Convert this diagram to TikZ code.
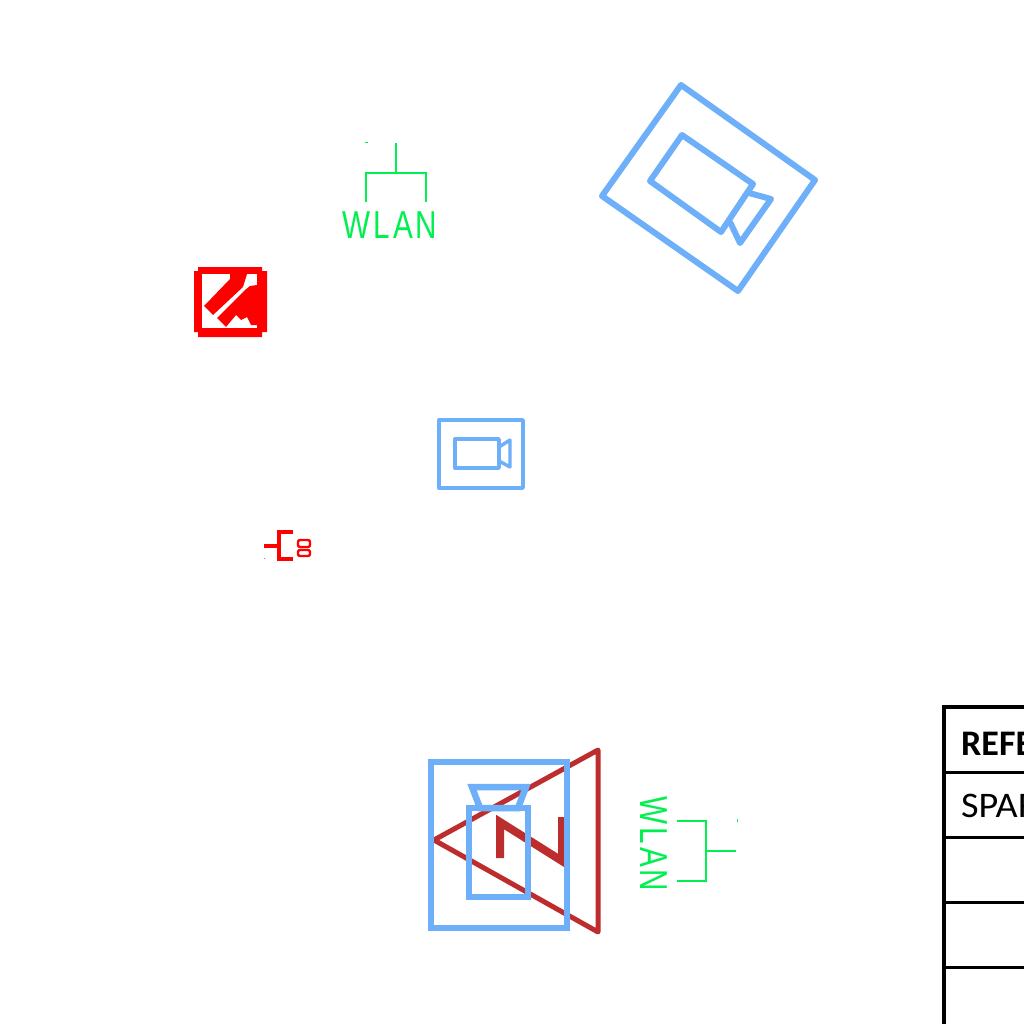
\documentclass[tikz,border=0pt]{standalone}
\usepackage{fontspec}
\setmainfont{Carlito}
\newfontfamily\cadfont[LetterSpace=10]{Liberation Sans}
\definecolor{camblue}{RGB}{110,175,250}
\definecolor{wlangreen}{RGB}{0,240,80}
\definecolor{northred}{RGB}{190,45,45}
\tikzset{
  camthick/.style={draw=camblue,line width=6.5pt},
  cammid/.style={draw=camblue,line width=6pt,line join=round},
  camthin/.style={draw=camblue,line width=3.4pt,line join=round},
  wlanline/.style={draw=wlangreen,line width=2.8pt},
  wlantext/.style={text=wlangreen,inner sep=0pt,font=\cadfont\fontsize{39}{39}\selectfont},
  redline/.style={draw=red,line width=3.2pt},
  tableline/.style={draw=black,line width=3pt},
  celltext/.style={text=black,inner sep=0pt,anchor=base west,font=\fontsize{36}{36}\selectfont},
}
\begin{document}
\begin{tikzpicture}[x=1pt,y=-1pt]
\useasboundingbox (0,0) rectangle (1024,1024);
\clip (0,0) rectangle (1024,1024);
\fill[white] (0,0) rectangle (1024,1024);
% rotated camera
\draw[cammid] (681,85) -- (815,180) -- (738,291) -- (602,196) -- cycle;
\draw[cammid] (682,135) -- (753,184) -- (721,232) -- (650,181) -- cycle;
\draw[cammid] (749,193) -- (771,199) -- (740,243) -- (730,222);
% small camera
\draw[camthin] (439,420) rectangle (523,488);
\draw[camthin] (455,439) rectangle (499,468);
\draw[camthin] (499,447) -- (510,440) -- (510,467) -- (499,461);
% north symbol and bottom camera
\draw[draw=northred,line width=5pt,line join=round] (434,840) -- (598,750) -- (598,932) -- cycle;
\draw[draw=northred,line width=8pt,miter limit=3] (500,858) -- (500,822) -- (562,861) -- (562,817);
\draw[camthick] (431,762) rectangle (567,928);
\draw[camthick] (469,808) rectangle (528,897);
\draw[camthick] (472,787) -- (526,787) -- (518,808) -- (480,808) -- cycle;
% WLAN top
\draw[wlanline] (396,143) -- (396,173);
\draw[wlanline] (366,202) -- (366,173) -- (426,173) -- (426,202);
\fill[wlangreen] (365,142.5) rectangle (368,143.5);
\node[wlantext,xscale=.76,anchor=base] (wlanA) at (390,238) {WLAN};
% WLAN right
\draw[wlanline] (677,821) -- (706,821) -- (706,881) -- (677,881);
\draw[wlanline] (706,851) -- (736,851);
\fill[wlangreen] (736.5,819) rectangle (737.5,822);
\node[wlantext,rotate=-90,xscale=.76,anchor=base] (wlanB) at (640,844) {WLAN};
% red block
\fill[red] (198,267) -- (262,267) -- (262,271) -- (267,271) -- (267,332) -- (262,332) -- (262,337) -- (198,337) -- (198,332) -- (194,332) -- (194,271) -- (198,271) -- cycle;
\fill[white] (202,274) rectangle (257,328);
\fill[red] (204,306) -- (230,279) -- (230,274) -- (247,274) -- (243,287) -- (213,315) -- cycle;
\fill[red] (217,318) -- (245,290) -- (250,286) -- (257,285) -- (257,325) -- (251,325) -- (247,317) -- (241,320) -- (236,315) -- (226,327) -- cycle;
% small red symbol
\draw[redline] (264,546) -- (279,546);
\draw[redline] (293,532) -- (279,532) -- (279,559) -- (293,559);
\draw[draw=red,line width=2.4pt,rounded corners=2pt] (298,540) rectangle (310,547);
\draw[draw=red,line width=2.4pt,rounded corners=2pt] (298,550) rectangle (310,556);
\fill[red!60] (264,557.5) rectangle (265,559);
% table
\draw[tableline,line width=4pt] (1024,707) -- (944,707) -- (944,1024);
\draw[tableline] (944,772) -- (1024,772);
\draw[tableline] (944,837) -- (1024,837);
\draw[tableline] (944,902) -- (1024,902);
\draw[tableline] (944,967) -- (1024,967);
\node[celltext] (ref) at (961,755) {\textbf{REFERENCE}};
\node[celltext,xscale=1.06] (spare) at (961,817) {SPARE};
\end{tikzpicture}
\end{document}
